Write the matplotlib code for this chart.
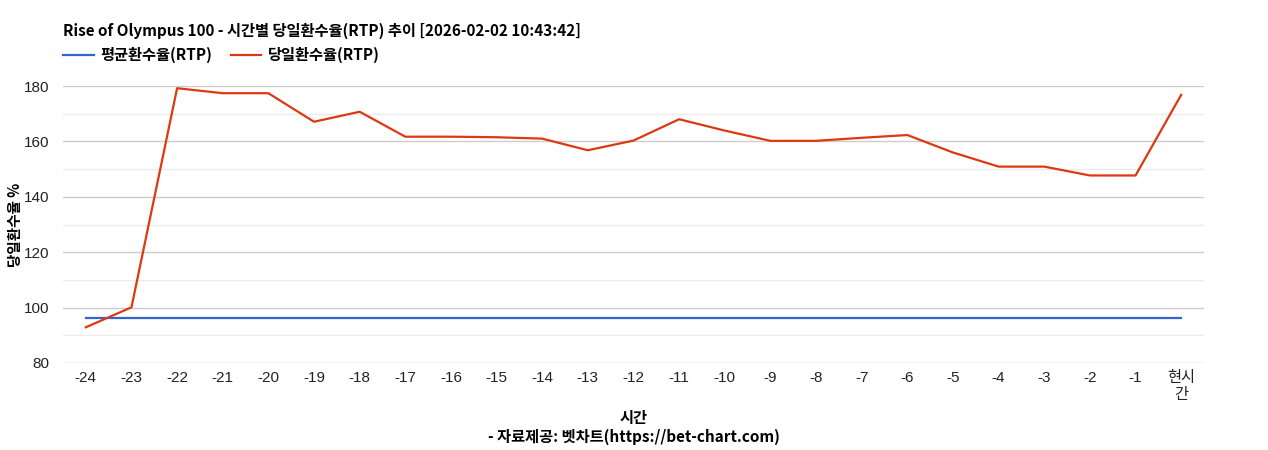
import matplotlib
matplotlib.use("Agg")
import numpy as np
from matplotlib import pyplot as plt

plt.rcParams["font.family"] = ["Noto Sans CJK KR", "DejaVu Sans"]

hours = ["-24", "-23", "-22", "-21", "-20", "-19", "-18", "-17", "-16", "-15",
         "-14", "-13", "-12", "-11", "-10", "-9", "-8", "-7", "-6", "-5",
         "-4", "-3", "-2", "-1", "현시\n간"]
rtp_today = [92.9, 100.1, 179.2, 177.4, 177.4, 167.1, 170.7, 161.7, 161.7, 161.5,
             161.0, 156.8, 160.3, 168.0, 163.9, 160.2, 160.2, 161.3, 162.3, 156.0,
             150.9, 150.9, 147.7, 147.7, 176.8]
rtp_avg = [96.2] * len(hours)

x = np.arange(len(hours))

fig = plt.figure(figsize=(12.68, 4.5), dpi=100)
ax = fig.add_axes([63 / 1268, 1 - 363 / 450, (1204 - 63) / 1268, (363 - 86) / 450])

ax.plot(x, rtp_avg, color="#3366cc", linewidth=1.6, label="평균환수율(RTP)")
ax.plot(x, rtp_today, color="#dc3912", linewidth=1.6, label="당일환수율(RTP)")

ax.set_xlim(-0.5, len(hours) - 0.5)
ax.set_ylim(80, 180)
ax.set_yticks(range(80, 181, 20))
ax.set_yticks(range(90, 180, 20), minor=True)
ax.grid(axis="y", which="major", color="#cccccc", linewidth=1)
ax.grid(axis="y", which="minor", color="#ebebeb", linewidth=1)
ax.set_axisbelow(True)
ax.set_xticks(x)
ax.set_xticklabels(hours, linespacing=1.25)
tick_font = ["Liberation Sans", "Noto Sans CJK KR"]
for lbl in ax.get_xticklabels() + ax.get_yticklabels():
    lbl.set_fontfamily(tick_font)
ax.tick_params(axis="both", which="both", length=0, labelsize=11, colors="#222222")
ax.tick_params(axis="x", pad=6)
ax.tick_params(axis="y", pad=10)
for s in ax.spines.values():
    s.set_visible(False)

ax.set_ylabel("당일환수율 %", fontsize=10.5, fontweight="bold")
ax.yaxis.set_label_coords(-0.035, 0.5)
ax.set_xlabel("시간", fontsize=11, fontweight="bold")
ax.xaxis.set_label_coords(0.5, -0.17)

fig.text(63 / 1268, 1 - 31 / 450, "Rise of Olympus 100 - 시간별 당일환수율(RTP) 추이 [2026-02-02 10:43:42]",
         fontsize=11, fontweight="bold", va="center", ha="left")
fig.text(0.5 * (63 + 1204) / 1268, 1 - 437 / 450, "- 자료제공: 벳차트(https://bet-chart.com)",
         fontsize=11, fontweight="bold", va="center", ha="center")

fig.legend(loc="center left", bbox_to_anchor=(63 / 1268, 1 - 55 / 450), ncol=2, frameon=False,
           handlelength=2.0, handletextpad=0.45, columnspacing=1.2, borderpad=0,
           borderaxespad=0, prop={"weight": "bold", "size": 11})

fig.savefig("out.png", dpi=100)
